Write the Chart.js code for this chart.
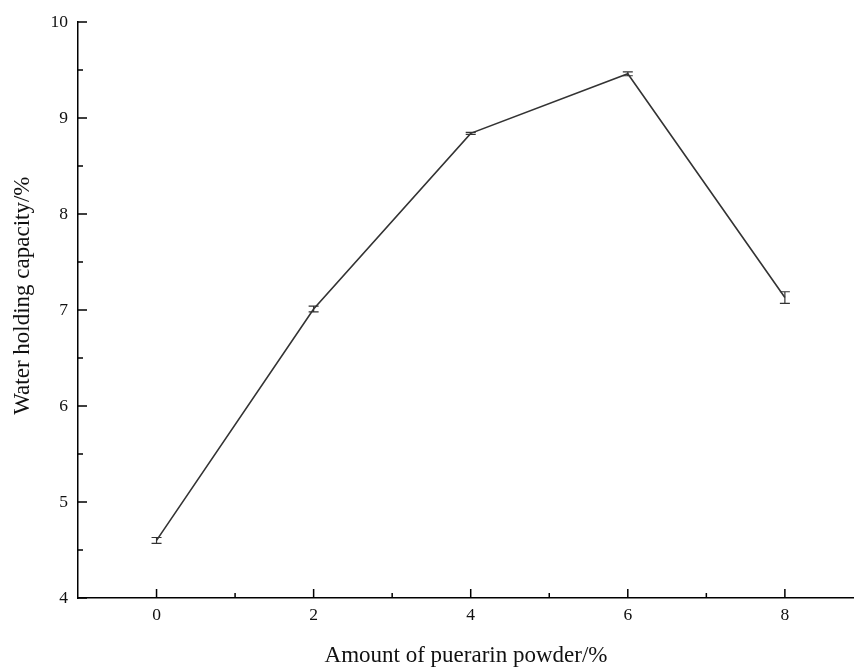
<!DOCTYPE html>
<html>
<head>
<meta charset="utf-8">
<script src="https://cdn.jsdelivr.net/npm/chart.js@4.4.0/dist/chart.umd.min.js"></script>
<style>
  html, body { margin: 0; padding: 0; background: #fff; }
  #wrap { width: 854px; height: 670px; }
</style>
</head>
<body>
<div id="wrap"><canvas id="myChart" width="854" height="670"></canvas></div>
<script>
// Data
const amounts = [0, 2, 4, 6, 8];
const capacity = [4.60, 7.01, 8.84, 9.46, 7.13];
const errors = [0.03, 0.03, 0.01, 0.02, 0.06];
const xTicks = [0, 2, 4, 6, 8];
const xMinor = [1, 3, 5, 7];
const yTicks = [4, 5, 6, 7, 8, 9, 10];
const yMinor = [4.5, 5.5, 6.5, 7.5, 8.5, 9.5];

const serif = '"Liberation Serif", "Times New Roman", serif';

// error bars + inward tick marks
const extras = {
  id: 'extras',
  afterDatasetsDraw(chart) {
    const ctx = chart.ctx;
    const x = chart.scales.x, y = chart.scales.y;
    ctx.save();
    ctx.strokeStyle = '#333';
    ctx.lineWidth = 1.2;
    amounts.forEach(function (a, i) {
      const px = x.getPixelForValue(a);
      const top = y.getPixelForValue(capacity[i] + errors[i]);
      const bot = y.getPixelForValue(capacity[i] - errors[i]);
      ctx.beginPath();
      ctx.moveTo(px, top); ctx.lineTo(px, bot);
      ctx.moveTo(px - 5, top); ctx.lineTo(px + 5, top);
      ctx.moveTo(px - 5, bot); ctx.lineTo(px + 5, bot);
      ctx.stroke();
    });
    ctx.strokeStyle = '#000';
    ctx.lineWidth = 1.5;
    const bx = y.left + y.width; // left axis line
    const by = x.top;            // bottom axis line
    ctx.beginPath();
    xTicks.forEach(function (v) { const p = x.getPixelForValue(v); ctx.moveTo(p, by); ctx.lineTo(p, by - 9); });
    xMinor.forEach(function (v) { const p = x.getPixelForValue(v); ctx.moveTo(p, by); ctx.lineTo(p, by - 5); });
    yTicks.forEach(function (v) { const p = y.getPixelForValue(v); ctx.moveTo(bx, p); ctx.lineTo(bx + 9, p); });
    yMinor.forEach(function (v) { const p = y.getPixelForValue(v); ctx.moveTo(bx, p); ctx.lineTo(bx + 5, p); });
    ctx.stroke();
    ctx.restore();
  }
};

const data = {
  datasets: [{
    label: 'Water holding capacity',
    data: amounts.map(function (a, i) { return { x: a, y: capacity[i] }; }),
    borderColor: '#333',
    borderWidth: 1.6,
    pointRadius: 0,
    tension: 0,
    fill: false
  }]
};

const config = {
  type: 'line',
  data: data,
  options: {
    responsive: false,
    animation: false,
    layout: { padding: { top: 22, right: 0, left: 0, bottom: 0 } },
    plugins: {
      legend: { display: false },
      tooltip: { enabled: false }
    },
    scales: {
      x: {
        type: 'linear',
        min: -1,
        max: 8.88,
        afterBuildTicks: function (s) { s.ticks = xTicks.map(function (v) { return { value: v }; }); },
        afterFit: function (s) { s.height = 72; },
        grid: { drawOnChartArea: false, drawTicks: false },
        border: { color: '#000', width: 1.5 },
        ticks: { color: '#111', padding: 7, font: { family: serif, size: 17.5 } },
        title: {
          display: true,
          text: 'Amount of puerarin powder/%',
          color: '#111',
          font: { family: serif, size: 23 },
          padding: { top: 0, bottom: 0 }
        }
      },
      y: {
        type: 'linear',
        min: 4,
        max: 10,
        afterBuildTicks: function (s) { s.ticks = yTicks.map(function (v) { return { value: v }; }); },
        afterFit: function (s) { s.width = 78; },
        grid: { drawOnChartArea: false, drawTicks: false },
        border: { color: '#000', width: 1.5 },
        ticks: { color: '#111', padding: 10, font: { family: serif, size: 17.5 } },
        title: {
          display: true,
          // leading spaces nudge the label upward like the original
          text: '\u00a0\u00a0\u00a0\u00a0\u00a0Water holding capacity/%',
          color: '#111',
          font: { family: serif, size: 23 },
          padding: { top: 9, bottom: 0 }
        }
      }
    }
  },
  plugins: [extras]
};

var myChart = new Chart(document.getElementById('myChart'), config);
</script>
</body>
</html>
